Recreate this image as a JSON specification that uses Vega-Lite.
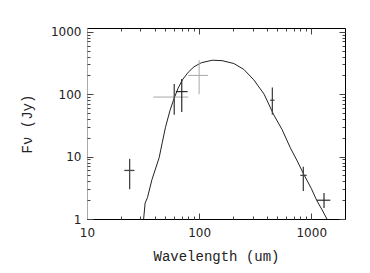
{
  "$schema": "https://vega.github.io/schema/vega-lite/v6.json",
  "width": 258,
  "height": 191,
  "autosize": "none",
  "padding": {"left": 87, "top": 28, "right": 25, "bottom": 54},
  "background": "white",
  "config": {
    "view": {"stroke": null},
    "axis": {"labelFont": "DejaVu Sans", "labelFontSize": 12, "labelColor": "#222", "titleFont": "Liberation Mono", "titleFontSize": 14, "titleFontWeight": "normal", "titleColor": "#222", "grid": false, "domainColor": "#000", "tickColor": "#444", "zindex": 2}
  },
  "datasets": {
    "sed": [
      {"wl": 32, "flux": 1},
      {"wl": 33, "flux": 1.8},
      {"wl": 34.6, "flux": 2.2},
      {"wl": 38, "flux": 4.3},
      {"wl": 44, "flux": 9.6},
      {"wl": 47, "flux": 17},
      {"wl": 50, "flux": 29},
      {"wl": 55, "flux": 55},
      {"wl": 60, "flux": 87},
      {"wl": 65, "flux": 125},
      {"wl": 71, "flux": 170},
      {"wl": 80, "flux": 225},
      {"wl": 90, "flux": 275},
      {"wl": 105, "flux": 320},
      {"wl": 131, "flux": 350},
      {"wl": 160, "flux": 345},
      {"wl": 204, "flux": 310},
      {"wl": 250, "flux": 250},
      {"wl": 307, "flux": 170},
      {"wl": 380, "flux": 100},
      {"wl": 462, "flux": 47},
      {"wl": 550, "flux": 27},
      {"wl": 650, "flux": 13.9},
      {"wl": 750, "flux": 8.5},
      {"wl": 855, "flux": 5.25},
      {"wl": 1000, "flux": 3.1},
      {"wl": 1120, "flux": 1.98},
      {"wl": 1250, "flux": 1.4},
      {"wl": 1380, "flux": 1}
    ],
    "obs": [
      {"wl": 24, "wlLo": 21.5, "wlHi": 26.5, "flux": 6, "fLo": 3, "fHi": 9.2, "hsrc": "other", "vsrc": "other"},
      {"wl": 60, "wlLo": 39, "wlHi": 80, "flux": 90, "fLo": 47, "fHi": 145, "hsrc": "IRAS", "vsrc": "other"},
      {"wl": 70, "wlLo": 62, "wlHi": 79, "flux": 110, "fLo": 52, "fHi": 175, "hsrc": "ISO", "vsrc": "ISO"},
      {"wl": 100, "wlLo": 80, "wlHi": 120, "flux": 200, "fLo": 100, "fHi": 350, "hsrc": "IRAS", "vsrc": "IRAS"},
      {"wl": 450, "wlLo": 430, "wlHi": 470, "flux": 80, "fLo": 47, "fHi": 128, "hsrc": "other", "vsrc": "other"},
      {"wl": 850, "wlLo": 800, "wlHi": 910, "flux": 5, "fLo": 2.8, "fHi": 6.9, "hsrc": "other", "vsrc": "other"},
      {"wl": 1300, "wlLo": 1120, "wlHi": 1480, "flux": 2, "fLo": 1.5, "fHi": 2.6, "hsrc": "ISO", "vsrc": "ISO"}
    ]
  },
  "resolve": {"axis": {"x": "independent", "y": "independent"}},
  "layer": [
    {
      "data": {"name": "sed"},
      "mark": {"type": "line", "color": "#222", "strokeWidth": 1, "clip": true},
      "encoding": {
        "x": {"field": "wl", "type": "quantitative",
          "scale": {"type": "log", "domain": [10, 2000], "nice": false},
          "axis": {"orient": "bottom", "title": "Wavelength (um)", "titlePadding": 11,
            "values": [10, 100, 1000], "format": "d", "ticks": false,
            "labelPadding": 8, "labelFlush": false, "labelOverlap": false}},
        "y": {"field": "flux", "type": "quantitative",
          "scale": {"type": "log", "domain": [1, 1150], "nice": false},
          "axis": {"orient": "left", "title": "Fν (Jy)", "titlePadding": 16,
            "values": [1, 10, 100, 1000], "format": "d", "ticks": false,
            "domainColor": "#aaa", "labelPadding": 6, "labelOverlap": false, "labelFlush": false}}
      }
    },
    {
      "data": {"name": "sed"},
      "mark": {"type": "line", "opacity": 0, "clip": true},
      "encoding": {
        "x": {"field": "wl", "type": "quantitative",
          "axis": {"orient": "bottom", "title": null, "labels": false, "domain": false, "offset": -3, "tickSize": 3,
            "values": [10,20,30,40,50,60,70,80,90,100,200,300,400,500,600,700,800,900,1000,2000]}},
        "y": {"field": "flux", "type": "quantitative",
          "axis": {"orient": "left", "title": null, "labels": false, "domain": false, "offset": -3, "tickSize": 3,
            "values": [1,2,3,4,5,6,7,8,9,10,20,30,40,50,60,70,80,90,100,200,300,400,500,600,700,800,900,1000]}}
      }
    },
    {
      "data": {"name": "sed"},
      "mark": {"type": "line", "opacity": 0, "clip": true},
      "encoding": {
        "x": {"field": "wl", "type": "quantitative",
          "axis": {"orient": "bottom", "title": null, "labels": false, "domain": false, "offset": -6, "tickSize": 6, "values": [10, 100, 1000]}},
        "y": {"field": "flux", "type": "quantitative",
          "axis": {"orient": "left", "title": null, "labels": false, "domain": false, "offset": -6, "tickSize": 6, "values": [1, 10, 100, 1000]}}
      }
    },
    {
      "data": {"name": "sed"},
      "mark": {"type": "line", "opacity": 0, "clip": true},
      "encoding": {
        "x": {"field": "wl", "type": "quantitative",
          "axis": {"orient": "top", "title": null, "labels": false, "tickSize": -3,
            "values": [10,20,30,40,50,60,70,80,90,100,200,300,400,500,600,700,800,900,1000,2000]}},
        "y": {"field": "flux", "type": "quantitative",
          "axis": {"orient": "right", "title": null, "labels": false, "tickSize": -3,
            "values": [1,2,3,4,5,6,7,8,9,10,20,30,40,50,60,70,80,90,100,200,300,400,500,600,700,800,900,1000]}}
      }
    },
    {
      "data": {"name": "sed"},
      "mark": {"type": "line", "opacity": 0, "clip": true},
      "encoding": {
        "x": {"field": "wl", "type": "quantitative",
          "axis": {"orient": "top", "title": null, "labels": false, "domain": false, "tickSize": -6, "values": [10, 100, 1000]}},
        "y": {"field": "flux", "type": "quantitative",
          "axis": {"orient": "right", "title": null, "labels": false, "domain": false, "tickSize": -6, "values": [1, 10, 100, 1000]}}
      }
    },
    {
      "data": {"name": "obs"},
      "mark": {"type": "rule", "clip": true},
      "encoding": {
        "x": {"field": "wlLo", "type": "quantitative", "axis": null},
        "x2": {"field": "wlHi"},
        "y": {"field": "flux", "type": "quantitative", "axis": null},
        "color": {"field": "hsrc", "type": "nominal", "legend": null,
          "scale": {"domain": ["IRAS", "ISO", "other"], "range": ["#a8a8a8", "#222", "#444"]}},
        "strokeWidth": {"field": "hsrc", "type": "nominal", "legend": null,
          "scale": {"domain": ["IRAS", "ISO", "other"], "range": [1, 1.3, 0.8]}}
      }
    },
    {
      "data": {"name": "obs"},
      "mark": {"type": "rule", "clip": true},
      "encoding": {
        "x": {"field": "wl", "type": "quantitative", "axis": null},
        "y": {"field": "fLo", "type": "quantitative", "axis": null},
        "y2": {"field": "fHi"},
        "color": {"field": "vsrc", "type": "nominal", "legend": null,
          "scale": {"domain": ["IRAS", "ISO", "other"], "range": ["#a8a8a8", "#222", "#444"]}},
        "strokeWidth": {"field": "vsrc", "type": "nominal", "legend": null,
          "scale": {"domain": ["IRAS", "ISO", "other"], "range": [1, 1.3, 0.8]}}
      }
    }
  ]
}
